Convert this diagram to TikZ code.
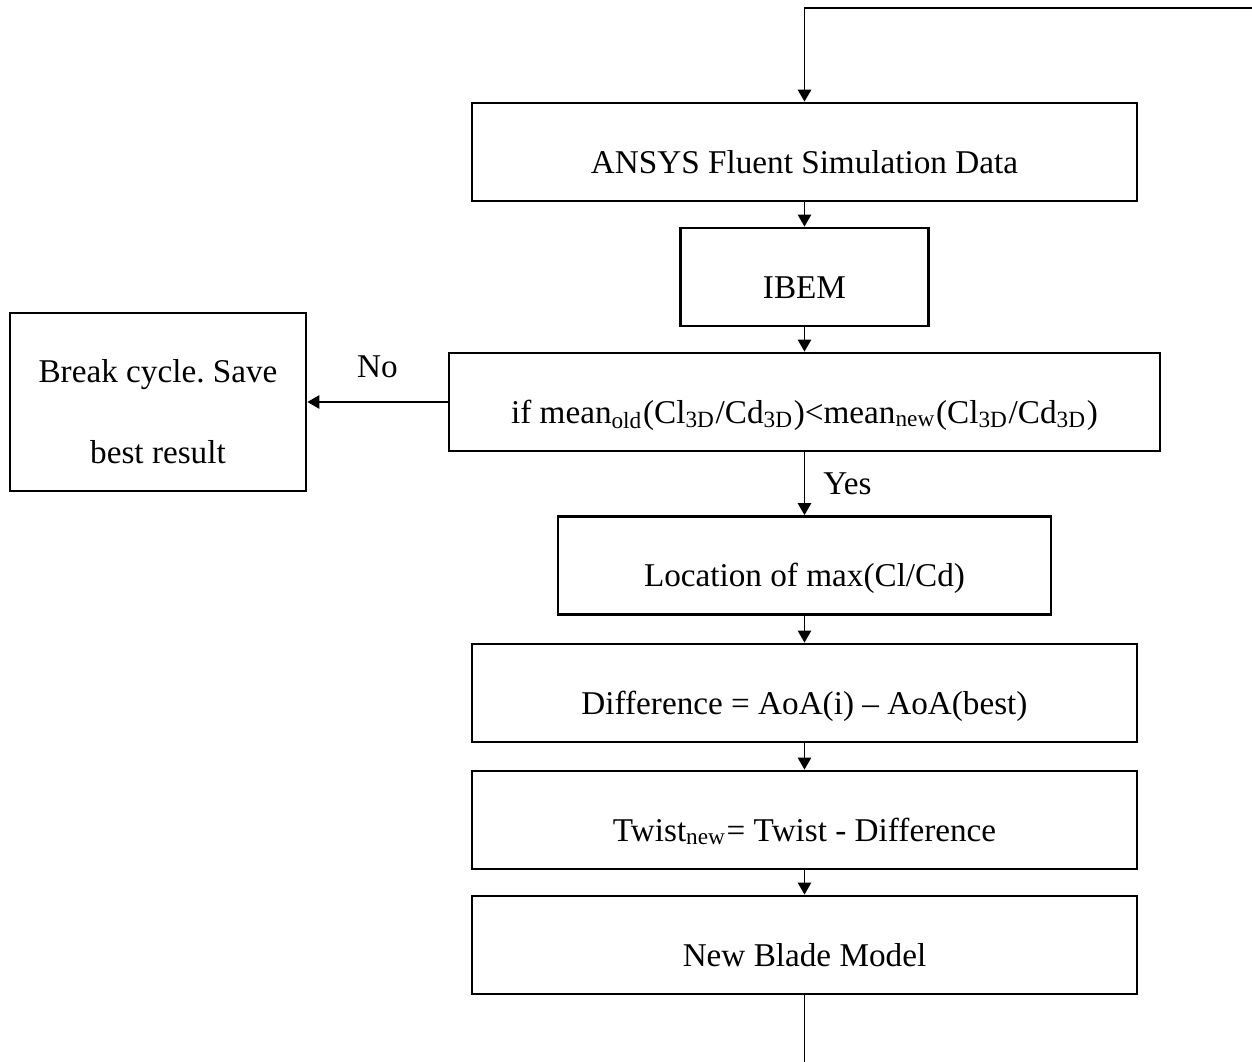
\documentclass[tikz,border=0pt]{standalone}
\usepackage{fontspec}
\setmainfont{Liberation Serif}
\usepackage{tikz}
\usetikzlibrary{arrows.meta, positioning}
\frenchspacing

\tikzset{
  flowbox/.style={draw, line width=0.8pt, inner sep=0pt, minimum height=0.98cm,
    font=\fontsize{9.45}{11}\selectfont, text height=12pt, text depth=0pt},
  flow/.style={line width=0.45pt, -{Triangle[length=3.4pt, width=3.8pt]}},
  loopline/.style={line width=0.55pt},
  lbl/.style={font=\fontsize{9.45}{11}\selectfont, inner sep=0pt}
}

\begin{document}
\begin{tikzpicture}[x=1cm, y=1cm]
\useasboundingbox (0,0) rectangle (12.52,10.62);
% main column
\node[flowbox, minimum width=6.65cm] (ansys) at (8.045,9.10) {ANSYS Fluent Simulation Data};
\node[flowbox, minimum width=2.48cm] (ibem) at (8.045,7.85) {IBEM};
\node[flowbox, minimum width=7.11cm] (cond) at (8.045,6.60)
  {if mean\textsubscript{old}(Cl\textsubscript{3D}/Cd\textsubscript{3D})<mean\textsubscript{new}(Cl\textsubscript{3D}/Cd\textsubscript{3D})};
\node[flowbox, minimum width=4.93cm] (loc) at (8.045,4.965) {Location of max(Cl/Cd)};
\node[flowbox, minimum width=6.65cm] (diff) at (8.045,3.69) {Difference = AoA(i) -- AoA(best)};
\node[flowbox, minimum width=6.65cm] (twist) at (8.045,2.42) {Twist\textsubscript{new}= Twist - Difference};
\node[flowbox, minimum width=6.65cm] (blade) at (8.045,1.17) {New Blade Model};
% exit box
\node[draw, line width=0.8pt, inner sep=0pt, minimum width=2.96cm, minimum height=1.78cm,
  align=center, font=\fontsize{9.45}{23}\selectfont] (brk) at (1.58,6.60)
  {\rule{0pt}{12pt}Break cycle. Save\\best result};

\draw[flow] (ansys.south) -- (ibem.north);
\draw[flow] (ibem.south) -- (cond.north);
\draw[flow] (cond.west) -- (brk.east) node[lbl, midway, yshift=0.35cm] (no) {No};
\draw[flow] (cond.south) -- (loc.north) node[lbl, midway, anchor=west, xshift=0.18cm] (yes) {Yes};
\draw[flow] (loc.south) -- (diff.north);
\draw[flow] (diff.south) -- (twist.north);
\draw[flow] (twist.south) -- (blade.north);

% loop back
\coordinate (loopin) at (12.52,10.54);
\coordinate (loopout) at (8.045,0);
\draw[loopline, -{Triangle[length=3.4pt, width=3.8pt]}] (loopin) -| (ansys.north);
\draw[flow, -] (blade.south) -- (loopout);
\end{tikzpicture}
\end{document}
